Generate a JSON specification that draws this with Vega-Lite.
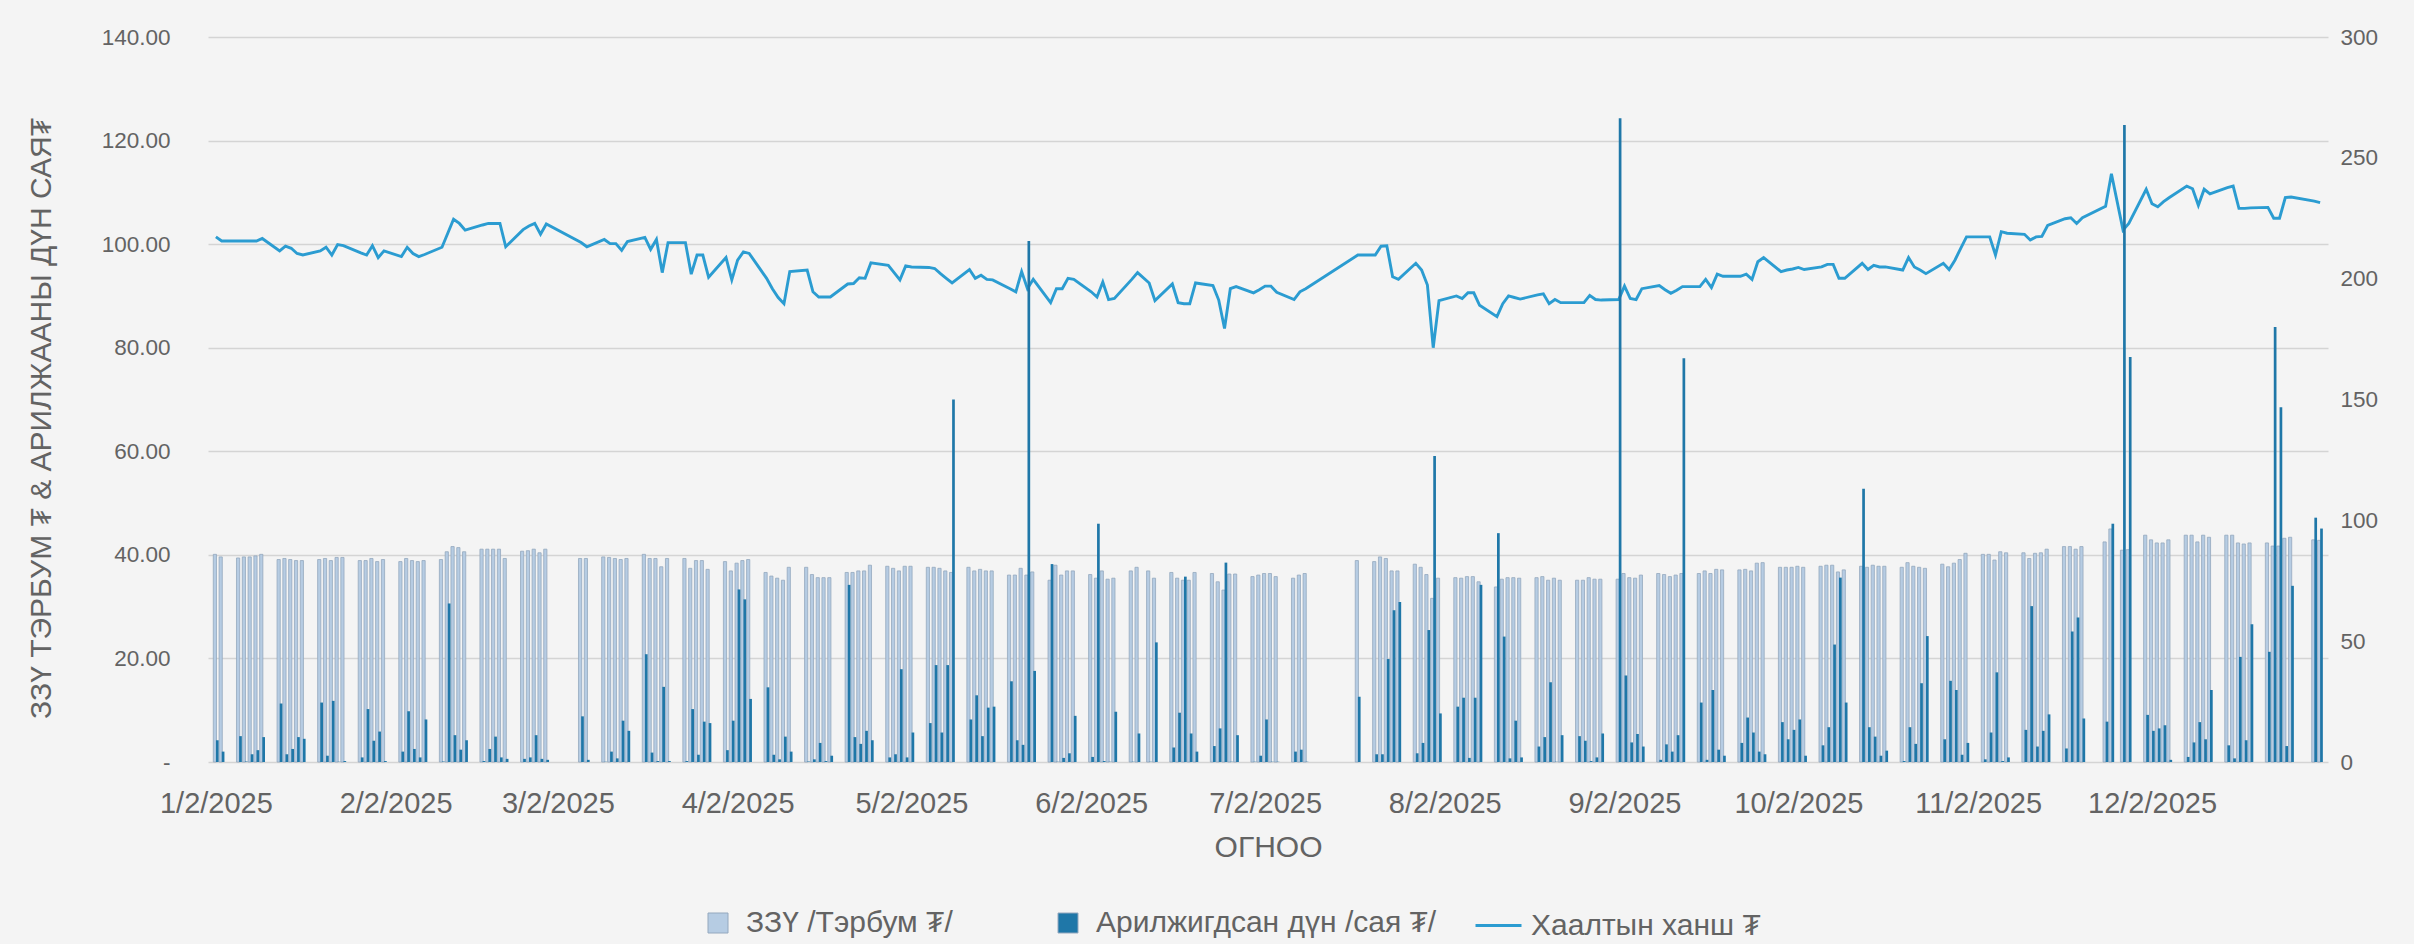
{
  "$schema": "https://vega.github.io/schema/vega-lite/v6.json",
  "width": 2120,
  "height": 725,
  "autosize": {"type": "none"},
  "padding": {"left": 208, "top": 37, "right": 86, "bottom": 182},
  "background": "#f4f4f4",
  "config": {
    "view": {"stroke": null},
    "font": "Liberation Sans",
    "axis": {"labelFont": "Liberation Sans", "titleFont": "Liberation Sans", "labelColor": "#636363", "titleColor": "#636363", "labelFontSize": 22.5, "titleFontSize": 30, "titleFontWeight": "normal", "ticks": false, "domain": false},
    "legend": {"labelFont": "Liberation Sans", "labelFontSize": 30, "labelColor": "#636363", "labelLimit": 0}
  },
  "data": {"values": [
{"d":"2025-01-02","m":40.1,"t":9.0,"p":101.4},{"d":"2025-01-03","m":39.6,"t":4.3,"p":100.6},
{"d":"2025-01-06","m":39.4,"t":10.7,"p":100.6},{"d":"2025-01-07","m":39.6,"t":0.2,"p":100.6},{"d":"2025-01-08","m":39.6,"t":3.2,"p":100.6},{"d":"2025-01-09","m":39.8,"t":4.9,"p":100.6},{"d":"2025-01-10","m":40.1,"t":10.3,"p":101.1},
{"d":"2025-01-13","m":39.1,"t":24.2,"p":98.7},{"d":"2025-01-14","m":39.3,"t":3.2,"p":99.6},{"d":"2025-01-15","m":39.1,"t":5.4,"p":99.2},{"d":"2025-01-16","m":38.9,"t":10.3,"p":98.2},{"d":"2025-01-17","m":38.9,"t":9.6,"p":97.9},
{"d":"2025-01-20","m":39.1,"t":24.6,"p":98.7},{"d":"2025-01-21","m":39.3,"t":2.6,"p":99.4},{"d":"2025-01-22","m":38.9,"t":25.3,"p":97.9},{"d":"2025-01-23","m":39.5,"t":0.1,"p":99.9},{"d":"2025-01-24","m":39.5,"t":0.4,"p":99.7},
{"d":"2025-01-27","m":38.9,"t":1.9,"p":98.3},{"d":"2025-01-28","m":38.9,"t":21.9,"p":97.9},{"d":"2025-01-29","m":39.3,"t":8.8,"p":99.7},{"d":"2025-01-30","m":38.7,"t":12.6,"p":97.4},{"d":"2025-01-31","m":39.1,"t":0.4,"p":98.7},
{"d":"2025-02-03","m":38.7,"t":4.3,"p":97.6},{"d":"2025-02-04","m":39.3,"t":21.0,"p":99.4},{"d":"2025-02-05","m":38.9,"t":5.4,"p":98.2},{"d":"2025-02-06","m":38.7,"t":1.9,"p":97.6},{"d":"2025-02-07","m":38.9,"t":17.6,"p":98.0},
{"d":"2025-02-10","m":39.1,"t":0.2,"p":99.4},{"d":"2025-02-11","m":40.6,"t":65.6,"p":102.1},{"d":"2025-02-12","m":41.6,"t":11.1,"p":104.8},{"d":"2025-02-13","m":41.4,"t":5.1,"p":104.0},{"d":"2025-02-14","m":40.6,"t":9.0,"p":102.7},
{"d":"2025-02-17","m":41.1,"t":0.4,"p":103.7},{"d":"2025-02-18","m":41.1,"t":5.4,"p":104.0},{"d":"2025-02-19","m":41.1,"t":10.5,"p":104.0},{"d":"2025-02-20","m":41.1,"t":1.9,"p":104.0},{"d":"2025-02-21","m":39.3,"t":1.3,"p":99.5},
{"d":"2025-02-24","m":40.7,"t":1.3,"p":102.8},{"d":"2025-02-25","m":40.8,"t":1.9,"p":103.5},{"d":"2025-02-26","m":41.1,"t":11.1,"p":104.0},{"d":"2025-02-27","m":40.4,"t":1.3,"p":101.9},{"d":"2025-02-28","m":41.1,"t":0.9,"p":103.9},
{"d":"2025-03-06","m":39.3,"t":18.9,"p":100.3},{"d":"2025-03-07","m":39.3,"t":0.9,"p":99.5},
{"d":"2025-03-10","m":39.6,"t":0.1,"p":100.9},{"d":"2025-03-11","m":39.5,"t":4.3,"p":100.1},{"d":"2025-03-12","m":39.3,"t":1.5,"p":100.1},{"d":"2025-03-13","m":39.1,"t":17.1,"p":98.8},{"d":"2025-03-14","m":39.3,"t":12.9,"p":100.5},
{"d":"2025-03-17","m":40.1,"t":44.6,"p":101.3},{"d":"2025-03-18","m":39.3,"t":3.9,"p":99.0},{"d":"2025-03-19","m":39.3,"t":0.4,"p":100.9},{"d":"2025-03-20","m":37.7,"t":31.1,"p":94.5},{"d":"2025-03-21","m":39.3,"t":0.4,"p":100.3},
{"d":"2025-03-24","m":39.3,"t":0.4,"p":100.3},{"d":"2025-03-25","m":37.4,"t":21.9,"p":94.2},{"d":"2025-03-26","m":38.9,"t":3.0,"p":97.9},{"d":"2025-03-27","m":38.9,"t":16.7,"p":97.9},{"d":"2025-03-28","m":37.2,"t":16.1,"p":93.6},
{"d":"2025-03-31","m":38.7,"t":4.9,"p":97.4},{"d":"2025-04-01","m":36.9,"t":17.1,"p":93.1},{"d":"2025-04-02","m":38.4,"t":71.4,"p":96.9},{"d":"2025-04-03","m":38.9,"t":67.3,"p":98.5},{"d":"2025-04-04","m":39.1,"t":26.1,"p":98.2},
{"d":"2025-04-07","m":36.6,"t":30.9,"p":93.4},{"d":"2025-04-08","m":35.9,"t":3.0,"p":91.4},{"d":"2025-04-09","m":35.5,"t":1.1,"p":89.7},{"d":"2025-04-10","m":35.1,"t":10.5,"p":88.5},{"d":"2025-04-11","m":37.6,"t":4.3,"p":94.7},
{"d":"2025-04-14","m":37.6,"t":0.2,"p":95.0},{"d":"2025-04-15","m":36.2,"t":1.1,"p":90.8},{"d":"2025-04-16","m":35.6,"t":7.9,"p":89.8},{"d":"2025-04-17","m":35.6,"t":0.4,"p":89.8},{"d":"2025-04-18","m":35.6,"t":2.6,"p":89.8},
{"d":"2025-04-21","m":36.6,"t":73.3,"p":92.3},{"d":"2025-04-22","m":36.6,"t":10.3,"p":92.4},{"d":"2025-04-23","m":36.9,"t":7.5,"p":93.5},{"d":"2025-04-24","m":36.9,"t":12.9,"p":93.4},{"d":"2025-04-25","m":38.0,"t":9.0,"p":96.4},
{"d":"2025-04-28","m":37.8,"t":1.9,"p":95.9},{"d":"2025-04-29","m":37.4,"t":3.2,"p":94.5},{"d":"2025-04-30","m":36.9,"t":38.4,"p":93.1},{"d":"2025-05-01","m":37.8,"t":1.9,"p":95.8},{"d":"2025-05-02","m":37.8,"t":12.2,"p":95.6},
{"d":"2025-05-05","m":37.6,"t":16.1,"p":95.5},{"d":"2025-05-06","m":37.6,"t":40.1,"p":95.3},{"d":"2025-05-07","m":37.4,"t":12.2,"p":94.3},{"d":"2025-05-08","m":36.9,"t":40.1,"p":93.4},{"d":"2025-05-09","m":36.6,"t":150.0,"p":92.5},
{"d":"2025-05-12","m":37.6,"t":17.6,"p":95.1},{"d":"2025-05-13","m":36.9,"t":27.6,"p":93.4},{"d":"2025-05-14","m":37.2,"t":10.7,"p":94.0},{"d":"2025-05-15","m":36.9,"t":22.5,"p":93.2},{"d":"2025-05-16","m":36.9,"t":22.9,"p":93.1},
{"d":"2025-05-19","m":36.1,"t":33.4,"p":91.4},{"d":"2025-05-20","m":36.1,"t":9.0,"p":90.8},{"d":"2025-05-21","m":37.4,"t":7.1,"p":94.7},{"d":"2025-05-22","m":36.1,"t":215.6,"p":91.4},{"d":"2025-05-23","m":36.7,"t":37.7,"p":93.2},
{"d":"2025-05-26","m":35.1,"t":81.9,"p":88.7},{"d":"2025-05-27","m":38.0,"t":0.1,"p":91.4},{"d":"2025-05-28","m":36.1,"t":1.7,"p":91.4},{"d":"2025-05-29","m":36.9,"t":3.6,"p":93.4},{"d":"2025-05-30","m":36.9,"t":19.1,"p":93.2},
{"d":"2025-06-02","m":36.2,"t":2.1,"p":90.8},{"d":"2025-06-03","m":35.5,"t":98.6,"p":89.8},{"d":"2025-06-04","m":36.9,"t":0.4,"p":92.7},{"d":"2025-06-05","m":35.3,"t":0.1,"p":89.3},{"d":"2025-06-06","m":35.5,"t":20.8,"p":89.5},
{"d":"2025-06-09","m":36.9,"t":0.1,"p":93.2},{"d":"2025-06-10","m":37.6,"t":11.8,"p":94.5},{"d":"2025-06-12","m":36.9,"t":0.1,"p":92.5},{"d":"2025-06-13","m":35.5,"t":49.5,"p":89.1},
{"d":"2025-06-16","m":36.6,"t":6.0,"p":92.3},{"d":"2025-06-17","m":35.5,"t":20.4,"p":88.7},{"d":"2025-06-18","m":35.1,"t":76.7,"p":88.5},{"d":"2025-06-19","m":35.1,"t":11.8,"p":88.5},{"d":"2025-06-20","m":36.6,"t":4.3,"p":92.5},
{"d":"2025-06-23","m":36.4,"t":6.6,"p":92.0},{"d":"2025-06-24","m":34.8,"t":13.9,"p":89.2},{"d":"2025-06-25","m":33.2,"t":82.5,"p":83.7},{"d":"2025-06-26","m":36.3,"t":0.1,"p":91.4},{"d":"2025-06-27","m":36.3,"t":11.1,"p":91.8},
{"d":"2025-06-30","m":35.8,"t":0.1,"p":90.6},{"d":"2025-07-01","m":36.1,"t":2.6,"p":91.2},{"d":"2025-07-02","m":36.4,"t":17.6,"p":91.9},{"d":"2025-07-03","m":36.4,"t":0.1,"p":91.9},{"d":"2025-07-04","m":35.8,"t":0.1,"p":90.7},
{"d":"2025-07-07","m":35.5,"t":4.3,"p":89.3},{"d":"2025-07-08","m":36.1,"t":5.1,"p":90.8},{"d":"2025-07-09","m":36.4,"t":0.1,"p":91.4},
{"d":"2025-07-18","m":38.9,"t":27.0,"p":97.9},
{"d":"2025-07-21","m":38.7,"t":3.2,"p":97.9},{"d":"2025-07-22","m":39.6,"t":3.2,"p":99.6},{"d":"2025-07-23","m":39.3,"t":42.6,"p":99.7},{"d":"2025-07-24","m":36.9,"t":62.8,"p":93.7},{"d":"2025-07-25","m":36.9,"t":66.2,"p":93.2},
{"d":"2025-07-28","m":38.2,"t":3.6,"p":96.3},{"d":"2025-07-29","m":37.6,"t":7.9,"p":95.0},{"d":"2025-07-30","m":36.2,"t":54.6,"p":92.1},{"d":"2025-07-31","m":31.6,"t":126.6,"p":80.0},{"d":"2025-08-01","m":35.5,"t":20.1,"p":89.1},
{"d":"2025-08-04","m":35.6,"t":22.9,"p":90.0},{"d":"2025-08-05","m":35.5,"t":26.6,"p":89.5},{"d":"2025-08-06","m":35.8,"t":1.7,"p":90.6},{"d":"2025-08-07","m":35.8,"t":26.6,"p":90.6},{"d":"2025-08-08","m":34.8,"t":73.3,"p":88.2},
{"d":"2025-08-11","m":33.8,"t":94.7,"p":86.0},{"d":"2025-08-12","m":35.3,"t":51.9,"p":88.5},{"d":"2025-08-13","m":35.6,"t":1.5,"p":90.0},{"d":"2025-08-14","m":35.6,"t":17.1,"p":89.7},{"d":"2025-08-15","m":35.5,"t":1.9,"p":89.4},
{"d":"2025-08-18","m":35.6,"t":6.4,"p":90.2},{"d":"2025-08-19","m":35.8,"t":10.3,"p":90.4},{"d":"2025-08-20","m":35.1,"t":33.0,"p":88.5},{"d":"2025-08-21","m":35.5,"t":0.1,"p":89.3},{"d":"2025-08-22","m":35.1,"t":11.1,"p":88.7},
{"d":"2025-08-25","m":35.1,"t":10.7,"p":88.7},{"d":"2025-08-26","m":35.1,"t":8.8,"p":88.7},{"d":"2025-08-27","m":35.6,"t":0.4,"p":90.1},{"d":"2025-08-28","m":35.3,"t":1.9,"p":89.3},{"d":"2025-08-29","m":35.3,"t":11.8,"p":89.2},
{"d":"2025-09-01","m":35.3,"t":266.4,"p":89.3},{"d":"2025-09-02","m":36.4,"t":35.8,"p":91.9},{"d":"2025-09-03","m":35.6,"t":8.1,"p":89.5},{"d":"2025-09-04","m":35.5,"t":11.6,"p":89.3},{"d":"2025-09-05","m":36.1,"t":6.4,"p":91.4},
{"d":"2025-09-08","m":36.4,"t":0.9,"p":92.0},{"d":"2025-09-09","m":36.2,"t":7.3,"p":91.2},{"d":"2025-09-10","m":35.8,"t":4.3,"p":90.5},{"d":"2025-09-11","m":36.1,"t":11.1,"p":91.1},{"d":"2025-09-12","m":36.4,"t":167.1,"p":91.8},
{"d":"2025-09-15","m":36.4,"t":24.6,"p":91.8},{"d":"2025-09-16","m":36.9,"t":0.9,"p":93.2},{"d":"2025-09-17","m":36.4,"t":29.8,"p":91.6},{"d":"2025-09-18","m":37.2,"t":5.1,"p":94.2},{"d":"2025-09-19","m":37.1,"t":2.6,"p":93.8},
{"d":"2025-09-22","m":37.1,"t":7.9,"p":93.8},{"d":"2025-09-23","m":37.2,"t":18.4,"p":94.2},{"d":"2025-09-24","m":36.9,"t":12.2,"p":93.2},{"d":"2025-09-25","m":38.4,"t":4.3,"p":96.6},{"d":"2025-09-26","m":38.5,"t":3.2,"p":97.4},
{"d":"2025-09-29","m":37.6,"t":16.5,"p":94.7},{"d":"2025-09-30","m":37.6,"t":9.4,"p":95.0},{"d":"2025-10-01","m":37.6,"t":13.3,"p":95.2},{"d":"2025-10-02","m":37.8,"t":17.6,"p":95.5},{"d":"2025-10-03","m":37.6,"t":2.6,"p":95.1},
{"d":"2025-10-06","m":37.8,"t":6.9,"p":95.6},{"d":"2025-10-07","m":38.0,"t":14.4,"p":96.1},{"d":"2025-10-08","m":38.0,"t":48.6,"p":96.1},{"d":"2025-10-09","m":36.7,"t":76.3,"p":93.4},{"d":"2025-10-10","m":37.1,"t":24.6,"p":93.4},
{"d":"2025-10-13","m":37.8,"t":113.1,"p":96.3},{"d":"2025-10-14","m":37.6,"t":14.4,"p":95.1},{"d":"2025-10-15","m":38.0,"t":10.5,"p":95.9},{"d":"2025-10-16","m":37.8,"t":2.6,"p":95.6},{"d":"2025-10-17","m":37.8,"t":4.7,"p":95.6},
{"d":"2025-10-20","m":37.6,"t":0.4,"p":95.0},{"d":"2025-10-21","m":38.5,"t":14.4,"p":97.4},{"d":"2025-10-22","m":37.8,"t":7.5,"p":95.6},{"d":"2025-10-23","m":37.6,"t":32.6,"p":95.0},{"d":"2025-10-24","m":37.4,"t":52.1,"p":94.3},
{"d":"2025-10-27","m":38.2,"t":9.4,"p":96.3},{"d":"2025-10-28","m":37.7,"t":33.6,"p":95.1},{"d":"2025-10-29","m":38.4,"t":29.8,"p":96.9},{"d":"2025-10-30","m":39.1,"t":3.0,"p":99.2},{"d":"2025-10-31","m":40.3,"t":7.9,"p":101.4},
{"d":"2025-11-03","m":40.1,"t":1.1,"p":101.4},{"d":"2025-11-04","m":40.1,"t":12.2,"p":101.4},{"d":"2025-11-05","m":39.0,"t":37.1,"p":97.9},{"d":"2025-11-06","m":40.6,"t":0.4,"p":102.4},{"d":"2025-11-07","m":40.4,"t":1.9,"p":102.1},
{"d":"2025-11-10","m":40.4,"t":13.3,"p":101.9},{"d":"2025-11-11","m":39.3,"t":64.5,"p":100.8},{"d":"2025-11-12","m":40.3,"t":6.4,"p":101.4},{"d":"2025-11-13","m":40.4,"t":12.9,"p":101.5},{"d":"2025-11-14","m":41.1,"t":19.7,"p":103.6},
{"d":"2025-11-17","m":41.6,"t":5.6,"p":104.9},{"d":"2025-11-18","m":41.6,"t":54.0,"p":105.1},{"d":"2025-11-19","m":41.1,"t":59.8,"p":104.0},{"d":"2025-11-20","m":41.6,"t":18.0,"p":105.1},
{"d":"2025-11-24","m":42.5,"t":16.7,"p":107.3},{"d":"2025-11-25","m":45.0,"t":98.6,"p":113.6},{"d":"2025-11-27","m":40.9,"t":263.6,"p":102.7},{"d":"2025-11-28","m":41.0,"t":167.6,"p":104.0},
{"d":"2025-12-01","m":43.8,"t":19.5,"p":110.6},{"d":"2025-12-02","m":42.9,"t":12.9,"p":107.8},{"d":"2025-12-03","m":42.3,"t":13.9,"p":107.2},{"d":"2025-12-04","m":42.3,"t":15.2,"p":108.2},{"d":"2025-12-05","m":42.9,"t":0.9,"p":109.0},
{"d":"2025-12-08","m":43.8,"t":2.1,"p":111.2},{"d":"2025-12-09","m":43.8,"t":8.1,"p":110.7},{"d":"2025-12-10","m":42.5,"t":16.5,"p":107.5},{"d":"2025-12-11","m":43.8,"t":9.4,"p":110.6},{"d":"2025-12-12","m":43.4,"t":29.8,"p":109.7},
{"d":"2025-12-15","m":43.8,"t":6.9,"p":110.9},{"d":"2025-12-16","m":43.8,"t":1.5,"p":111.2},{"d":"2025-12-17","m":42.3,"t":43.5,"p":106.9},{"d":"2025-12-18","m":42.1,"t":9.0,"p":106.9},{"d":"2025-12-19","m":42.3,"t":57.0,"p":107.0},
{"d":"2025-12-22","m":42.3,"t":45.6,"p":107.1},{"d":"2025-12-23","m":41.7,"t":180.0,"p":105.0},{"d":"2025-12-24","m":41.7,"t":146.8,"p":105.0},{"d":"2025-12-25","m":43.2,"t":6.6,"p":109.0},{"d":"2025-12-26","m":43.4,"t":72.9,"p":109.1},
{"d":"2025-12-30","m":42.9,"t":101.1,"p":108.3},{"d":"2025-12-31","m":42.8,"t":96.6,"p":108.0}
  ]},
  "encoding": {
    "x": {
      "field": "d", "type": "temporal",
      "scale": {"type": "utc", "domain": [{"year": 2025, "month": 1, "date": 1, "hours": 12, "utc": true}, {"year": 2025, "month": 12, "date": 31, "hours": 12, "utc": true}]},
      "axis": {
        "values": [
          {"year": 2025, "month": 1, "date": 2, "utc": true}, {"year": 2025, "month": 2, "date": 2, "utc": true}, {"year": 2025, "month": 3, "date": 2, "utc": true},
          {"year": 2025, "month": 4, "date": 2, "utc": true}, {"year": 2025, "month": 5, "date": 2, "utc": true}, {"year": 2025, "month": 6, "date": 2, "utc": true},
          {"year": 2025, "month": 7, "date": 2, "utc": true}, {"year": 2025, "month": 8, "date": 2, "utc": true}, {"year": 2025, "month": 9, "date": 2, "utc": true},
          {"year": 2025, "month": 10, "date": 2, "utc": true}, {"year": 2025, "month": 11, "date": 2, "utc": true}, {"year": 2025, "month": 12, "date": 2, "utc": true}
        ],
        "labelExpr": "utcFormat(datum.value, '%-m/%-d/%Y')",
        "labelFontSize": 29,
        "grid": false, "labelPadding": 27, "labelFlush": false, "labelOverlap": false,
        "title": "ОГНОО", "titlePadding": 14
      }
    }
  },
  "layer": [
    {
      "mark": {"type": "bar", "width": 3.2, "xOffset": -1, "stroke": "#94a8be", "strokeWidth": 0.8},
      "encoding": {
        "y": {"field": "m", "type": "quantitative", "scale": {"domain": [0, 140]},
          "axis": {"values": [0, 20, 40, 60, 80, 100, 120, 140], "orient": "left", "grid": true, "gridColor": "#d4d4d4", "gridWidth": 1.5,
            "labelExpr": "datum.value === 0 ? '-\u00a0\u00a0\u00a0\u00a0\u00a0' : format(datum.value, '.2f')", "labelPadding": 38,
            "title": "ЗЗҮ ТЭРБУМ ₮ & АРИЛЖААНЫ ДҮН САЯ₮", "titlePadding": 45, "titleY": 381}},
        "color": {"datum": "ЗЗҮ /Тэрбум ₮/", "type": "nominal",
          "scale": {"domain": ["ЗЗҮ /Тэрбум ₮/", "Арилжигдсан дүн /сая ₮/"], "range": ["#b6cce3", "#1f77a8"]},
          "legend": {"orient": "none", "legendX": 495, "legendY": 871, "direction": "horizontal", "title": null,
            "symbolType": "square", "symbolSize": 400, "symbolStrokeColor": "#94a8be", "symbolStrokeWidth": 1, "columnPadding": 100, "labelOffset": 13}}
      }
    },
    {
      "mark": {"type": "line", "strokeWidth": 2.9, "interpolate": "linear"},
      "encoding": {
        "y": {"field": "p", "type": "quantitative", "scale": {"domain": [0, 140]}, "axis": null},
        "stroke": {"datum": "Хаалтын ханш ₮", "type": "nominal",
          "scale": {"domain": ["Хаалтын ханш ₮"], "range": ["#2b9cd1"]},
          "legend": {"orient": "none", "legendX": 1266, "legendY": 864, "direction": "horizontal", "title": null,
            "symbolType": "stroke", "symbolSize": 2116, "symbolStrokeWidth": 3, "labelOffset": 8}}
      }
    },
    {
      "mark": {"type": "bar", "width": 2.7, "xOffset": 1.4},
      "encoding": {
        "y": {"field": "t", "type": "quantitative", "scale": {"domain": [0, 300]},
          "axis": {"values": [0, 50, 100, 150, 200, 250, 300], "orient": "right", "grid": false, "labelPadding": 12, "title": null}},
        "color": {"datum": "Арилжигдсан дүн /сая ₮/", "type": "nominal"}
      }
    }
  ],
  "resolve": {"scale": {"y": "independent"}}
}
